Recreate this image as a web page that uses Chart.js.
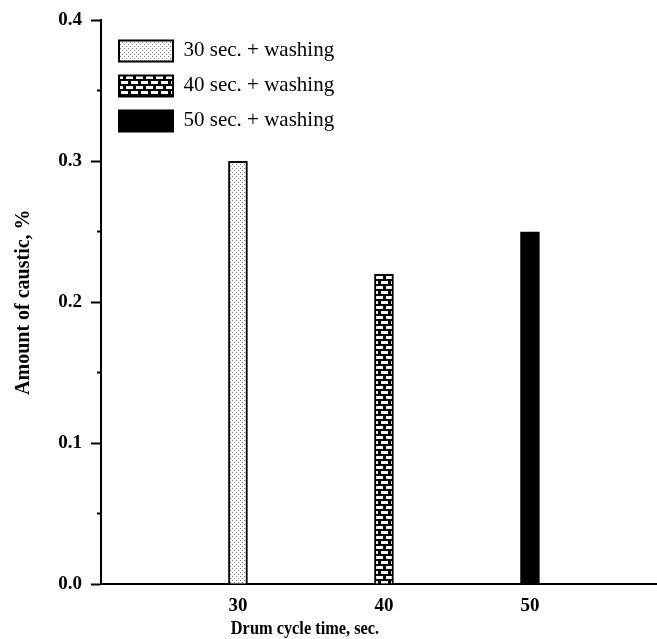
<!DOCTYPE html>
<html>
<head>
<meta charset="utf-8">
<script src="https://cdn.jsdelivr.net/npm/chart.js@4.4.1/dist/chart.umd.min.js"></script>
<style>
html,body{margin:0;padding:0;background:#fff;}
#wrap{width:657px;height:639px;}
</style>
</head>
<body>
<div id="wrap"><canvas id="c" width="657" height="639"></canvas></div>
<script>
// ---- data ----
const cycleTimes = [30, 40, 50];
const causticAmount = [0.30, 0.22, 0.25];
const seriesLabels = ['30 sec. + washing', '40 sec. + washing', '50 sec. + washing'];
const yTickValues = [0.0, 0.1, 0.2, 0.3, 0.4];
const xTitle = 'Drum cycle time, sec.';
const yTitle = 'Amount of caustic, %';

// ---- fill patterns ----
function dotPattern() {
  const t = document.createElement('canvas'); t.width = 4; t.height = 4;
  const g = t.getContext('2d');
  g.fillStyle = '#fff'; g.fillRect(0, 0, 4, 4);
  g.fillStyle = '#7a7a7a';
  g.fillRect(0, 0, 1, 1); g.fillRect(2, 2, 1, 1);
  return g.createPattern(t, 'repeat');
}
function brickPattern() {
  const t = document.createElement('canvas'); t.width = 10; t.height = 10;
  const g = t.getContext('2d');
  g.fillStyle = '#000'; g.fillRect(0, 0, 10, 10);
  g.fillStyle = '#fff';
  g.fillRect(1, 1, 7, 3);
  g.fillRect(6, 6, 7, 3); g.fillRect(-4, 6, 7, 3);
  return g.createPattern(t, 'repeat');
}
const fills = [dotPattern(), brickPattern(), '#000'];

const serif = "'Liberation Serif', 'Times New Roman', serif";

const datasets = cycleTimes.map((x, i) => ({
  label: seriesLabels[i],
  data: [{ x: x, y: causticAmount[i] }],
  backgroundColor: fills[i],
  borderColor: '#000',
  borderWidth: 2,
  borderSkipped: 'bottom',
  barThickness: 19,
  grouped: false
}));

const titlePlugin = {
  id: 'axisTitles',
  afterDraw(chart) {
    const ctx = chart.ctx;
    ctx.save();
    ctx.fillStyle = '#000';
    ctx.font = 'bold 19px ' + serif;
    ctx.textAlign = 'center';
    ctx.textBaseline = 'alphabetic';
    ctx.translate(305, 634);
    ctx.scale(0.86, 1);
    ctx.fillText(xTitle, 0, 0);
    ctx.restore();

    ctx.save();
    ctx.fillStyle = '#000';
    ctx.font = 'bold 20px ' + serif;
    ctx.textAlign = 'center';
    ctx.textBaseline = 'alphabetic';
    const ys = chart.scales.y;
    ctx.translate(29, (ys.top + ys.bottom) / 2);
    ctx.rotate(-Math.PI / 2);
    ctx.fillText(yTitle, 0, 0);
    ctx.restore();
  }
};

const legendPlace = {
  id: 'legendPlace',
  afterLayout(chart) {
    const lg = chart.legend;
    if (lg) {
      const w = lg.width, h = lg.height;
      lg.left = chart.chartArea.left + 4;
      lg.top = chart.chartArea.top + 6;
      lg.right = lg.left + w;
      lg.bottom = lg.top + h;
      if (lg.adjustHitBoxes) lg.adjustHitBoxes();
    }
  }
};

new Chart(document.getElementById('c'), {
  type: 'bar',
  data: { datasets },
  options: {
    responsive: false,
    animation: false,
    devicePixelRatio: 1,
    layout: { padding: { top: 18, left: 0, right: 0, bottom: 0 } },
    plugins: {
      legend: {
        position: 'chartArea',
        align: 'start',
        labels: {
          boxWidth: 54,
          boxHeight: 21,
          padding: 14,
          color: '#000',
          font: { family: serif, size: 21 }
        }
      },
      tooltip: { enabled: false }
    },
    scales: {
      x: {
        type: 'linear',
        offset: false,
        min: 20.62,
        max: 58.7,
        afterFit(s) { s.height = 55; },
        afterBuildTicks(s) { s.ticks = cycleTimes.map(v => ({ value: v })); },
        grid: { display: false, drawTicks: false, offset: false },
        border: { display: true, color: '#000', width: 2 },
        ticks: {
          color: '#000',
          padding: 11,
          font: { family: serif, size: 19, weight: 'bold' },
          callback: v => String(v)
        }
      },
      y: {
        type: 'linear',
        min: 0,
        max: 0.4,
        afterFit(s) { s.width = 101; },
        ticks: {
          stepSize: 0.05,
          color: '#000',
          padding: 9,
          font: { family: serif, size: 19, weight: 'bold' },
          callback: v => {
            const k = Math.round(v * 20);
            return k % 2 === 0 ? yTickValues[k / 2].toFixed(1) : '';
          }
        },
        grid: {
          drawOnChartArea: false,
          drawTicks: true,
          tickLength: 10,
          tickWidth: 2,
          tickColor: '#000',
          tickBorderDash: ctx => (Math.round(ctx.tick.value * 20) % 2 === 0 ? [] : [0, 6, 6, 100])
        },
        border: { display: true, color: '#000', width: 2 }
      }
    }
  },
  plugins: [titlePlugin, legendPlace]
});
</script>
</body>
</html>
